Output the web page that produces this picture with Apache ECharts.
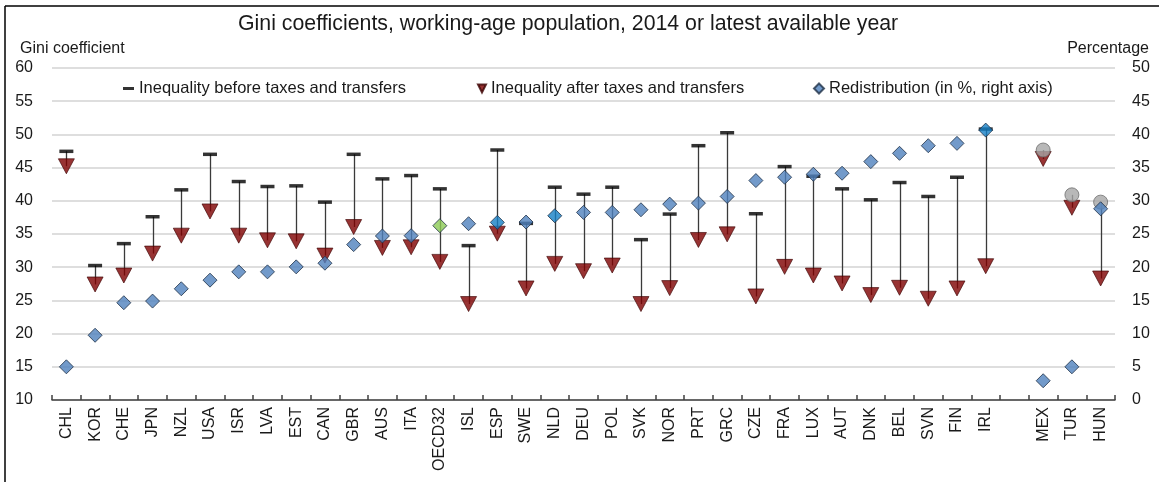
<!DOCTYPE html>
<html>
<head>
<meta charset="utf-8">
<script src="https://cdn.jsdelivr.net/npm/echarts@6/dist/echarts.min.js"></script>
<style>
html,body{margin:0;padding:0;background:#fff;}
#chart{width:1159px;height:482px;}
</style>
</head>
<body>
<div id="chart"></div>
<script>
const categories = ['CHL','KOR','CHE','JPN','NZL','USA','ISR','LVA','EST','CAN','GBR','AUS','ITA','OECD32','ISL','ESP','SWE','NLD','DEU','POL','SVK','NOR','PRT','GRC','CZE','FRA','LUX','AUT','DNK','BEL','SVN','FIN','IRL','','MEX','TUR','HUN'];
const beforeTax = [47.45,30.25,33.55,37.6,41.65,47.0,42.9,42.15,42.25,39.8,47.0,43.3,43.8,41.8,33.25,47.65,36.6,42.05,41.0,42.05,34.15,38.0,48.3,50.25,38.05,45.15,43.7,41.8,40.15,42.75,40.65,43.55,50.8,null,47.65,40.9,39.8];
const afterTax = [45.2,27.4,28.75,32.05,34.75,38.4,34.75,34.05,33.9,31.75,36.05,32.9,33.0,30.8,24.45,35.05,26.8,30.5,29.4,30.25,24.45,26.85,34.1,34.95,25.6,30.05,28.75,27.55,25.8,26.9,25.25,26.8,30.15,null,46.3,38.95,28.3];
const redistribution = [5.0,9.75,14.65,14.9,16.75,18.05,19.3,19.3,20.05,20.6,23.4,24.7,24.75,26.25,26.55,26.75,26.8,27.75,28.25,28.25,28.65,29.5,29.65,30.65,33.05,33.55,34.0,34.15,35.9,37.15,38.3,38.65,40.65,null,2.9,5.0,28.8];
const leftTicks = {min:10, max:60, interval:5};
const rightTicks = {min:0, max:50, interval:5};
const circleCats = ['MEX','TUR','HUN'];
const brightCats = ['ESP','NLD','IRL'];
const oecdCat = 'OECD32';

const FONT = "'Liberation Sans', Arial, sans-serif";
const TXT = '#1a1a1a';
const names = ['Inequality before taxes and transfers','Inequality after taxes and transfers','Redistribution (in %, right axis)'];

const lineData = [];
categories.forEach((c,i)=>{ if(beforeTax[i]!=null && afterTax[i]!=null) lineData.push([i,beforeTax[i],afterTax[i]]); });

const capData = categories.map((c,i)=>{
  if(beforeTax[i]==null) return '-';
  if(circleCats.includes(c)) return {value:beforeTax[i], symbol:'circle', symbolSize:14,
    itemStyle:{color:'#A6A6A6', borderColor:'#6F6F6F', borderWidth:1}};
  return {value:beforeTax[i]};
});
const afterData = afterTax.map(v=> v==null?'-':v);
const redData = categories.map((c,i)=>{
  if(redistribution[i]==null) return '-';
  let col = '#4F81BD';
  if(brightCats.includes(c)) col = '#1580C6';
  if(c===oecdCat) col = '#8CCB55';
  return {value:redistribution[i], itemStyle:{color:col}};
});

const chart = echarts.init(document.getElementById('chart'), null, {renderer:'canvas'});
chart.setOption({
  animation:false,
  backgroundColor:'#fff',
  textStyle:{fontFamily:FONT},
  title:{text:'Gini coefficients, working-age population, 2014 or latest available year',
    left:233, top:9, textStyle:{fontFamily:FONT, fontSize:21.3, fontWeight:'normal', color:TXT}},
  graphic:[
    {type:'line', shape:{x1:5,y1:6,x2:1159,y2:6}, style:{stroke:'#000', lineWidth:1.5}},
    {type:'line', shape:{x1:5,y1:6,x2:5,y2:482}, style:{stroke:'#000', lineWidth:1.5}},
    {type:'text', left:20, top:41, style:{text:'Gini coefficient', fontFamily:FONT, fontSize:16, fill:TXT}},
    {type:'text', right:10, top:41, style:{text:'Percentage', fontFamily:FONT, fontSize:16, fill:TXT}}
  ],
  legend:[
    {data:[{name:names[0], icon:'rect'}], left:123, top:80, padding:0, itemWidth:11, itemHeight:3,
      textStyle:{fontFamily:FONT, fontSize:16.5, color:TXT}},
    {data:[{name:names[1], icon:'path://M0,0L10,0L5,10Z'}], left:477, top:80, padding:0, itemWidth:8, itemHeight:9,
      textStyle:{fontFamily:FONT, fontSize:16.5, color:TXT}},
    {data:[{name:names[2], icon:'diamond'}], left:813, top:80, padding:0, itemWidth:10, itemHeight:10,
      textStyle:{fontFamily:FONT, fontSize:16.5, color:TXT}}
  ],
  grid:{left:52, right:44, top:68, bottom:82},
  xAxis:{type:'category', data:categories, boundaryGap:true,
    axisLine:{lineStyle:{color:'#404040', width:1.5}},
    axisTick:{show:true, inside:true, length:5, interval:0, lineStyle:{color:'#404040', width:1.5}},
    axisLabel:{rotate:90, interval:0, margin:7, fontFamily:FONT, fontSize:16, color:TXT},
    splitLine:{show:false}},
  yAxis:[
    {type:'value', min:leftTicks.min, max:leftTicks.max, interval:leftTicks.interval,
      axisLine:{show:false}, axisTick:{show:false},
      axisLabel:{margin:19, fontFamily:FONT, fontSize:16, color:TXT},
      splitLine:{lineStyle:{color:'#D3D3D3', width:1.5}}},
    {type:'value', min:rightTicks.min, max:rightTicks.max, interval:rightTicks.interval, position:'right',
      axisLine:{show:false}, axisTick:{show:false},
      axisLabel:{margin:17, fontFamily:FONT, fontSize:16, color:TXT},
      splitLine:{show:false}}
  ],
  series:[
    {type:'custom', name:'connector', yAxisIndex:0, z:1, silent:true,
      data:lineData, encode:{x:0, y:[1,2]},
      renderItem:function(params, api){
        const p1 = api.coord([api.value(0), api.value(1)]);
        const p2 = api.coord([api.value(0), api.value(2)]);
        const x = Math.round(p1[0])+0.5;
        return {type:'line', shape:{x1:x, y1:p1[1], x2:x, y2:p2[1]},
          style:{stroke:'#3a3a3a', lineWidth:1.3}};
      }},
    {type:'scatter', name:names[1], yAxisIndex:0, z:3, data:afterData,
      symbol:'path://M0,0L10,0L5,10Z', symbolSize:[16,15],
      itemStyle:{color:'#7E0000', borderColor:'#3a0000', borderWidth:0.8}},
    {type:'scatter', name:names[0], yAxisIndex:0, z:4, data:capData,
      symbol:'rect', symbolSize:[14,3.5], itemStyle:{color:'#000'}},
    {type:'scatter', name:names[2], yAxisIndex:1, z:5, data:redData,
      symbol:'diamond', symbolSize:14,
      itemStyle:{color:'#4F81BD', borderColor:'#1f3147', borderWidth:1}}
  ]
});
</script>
</body>
</html>
